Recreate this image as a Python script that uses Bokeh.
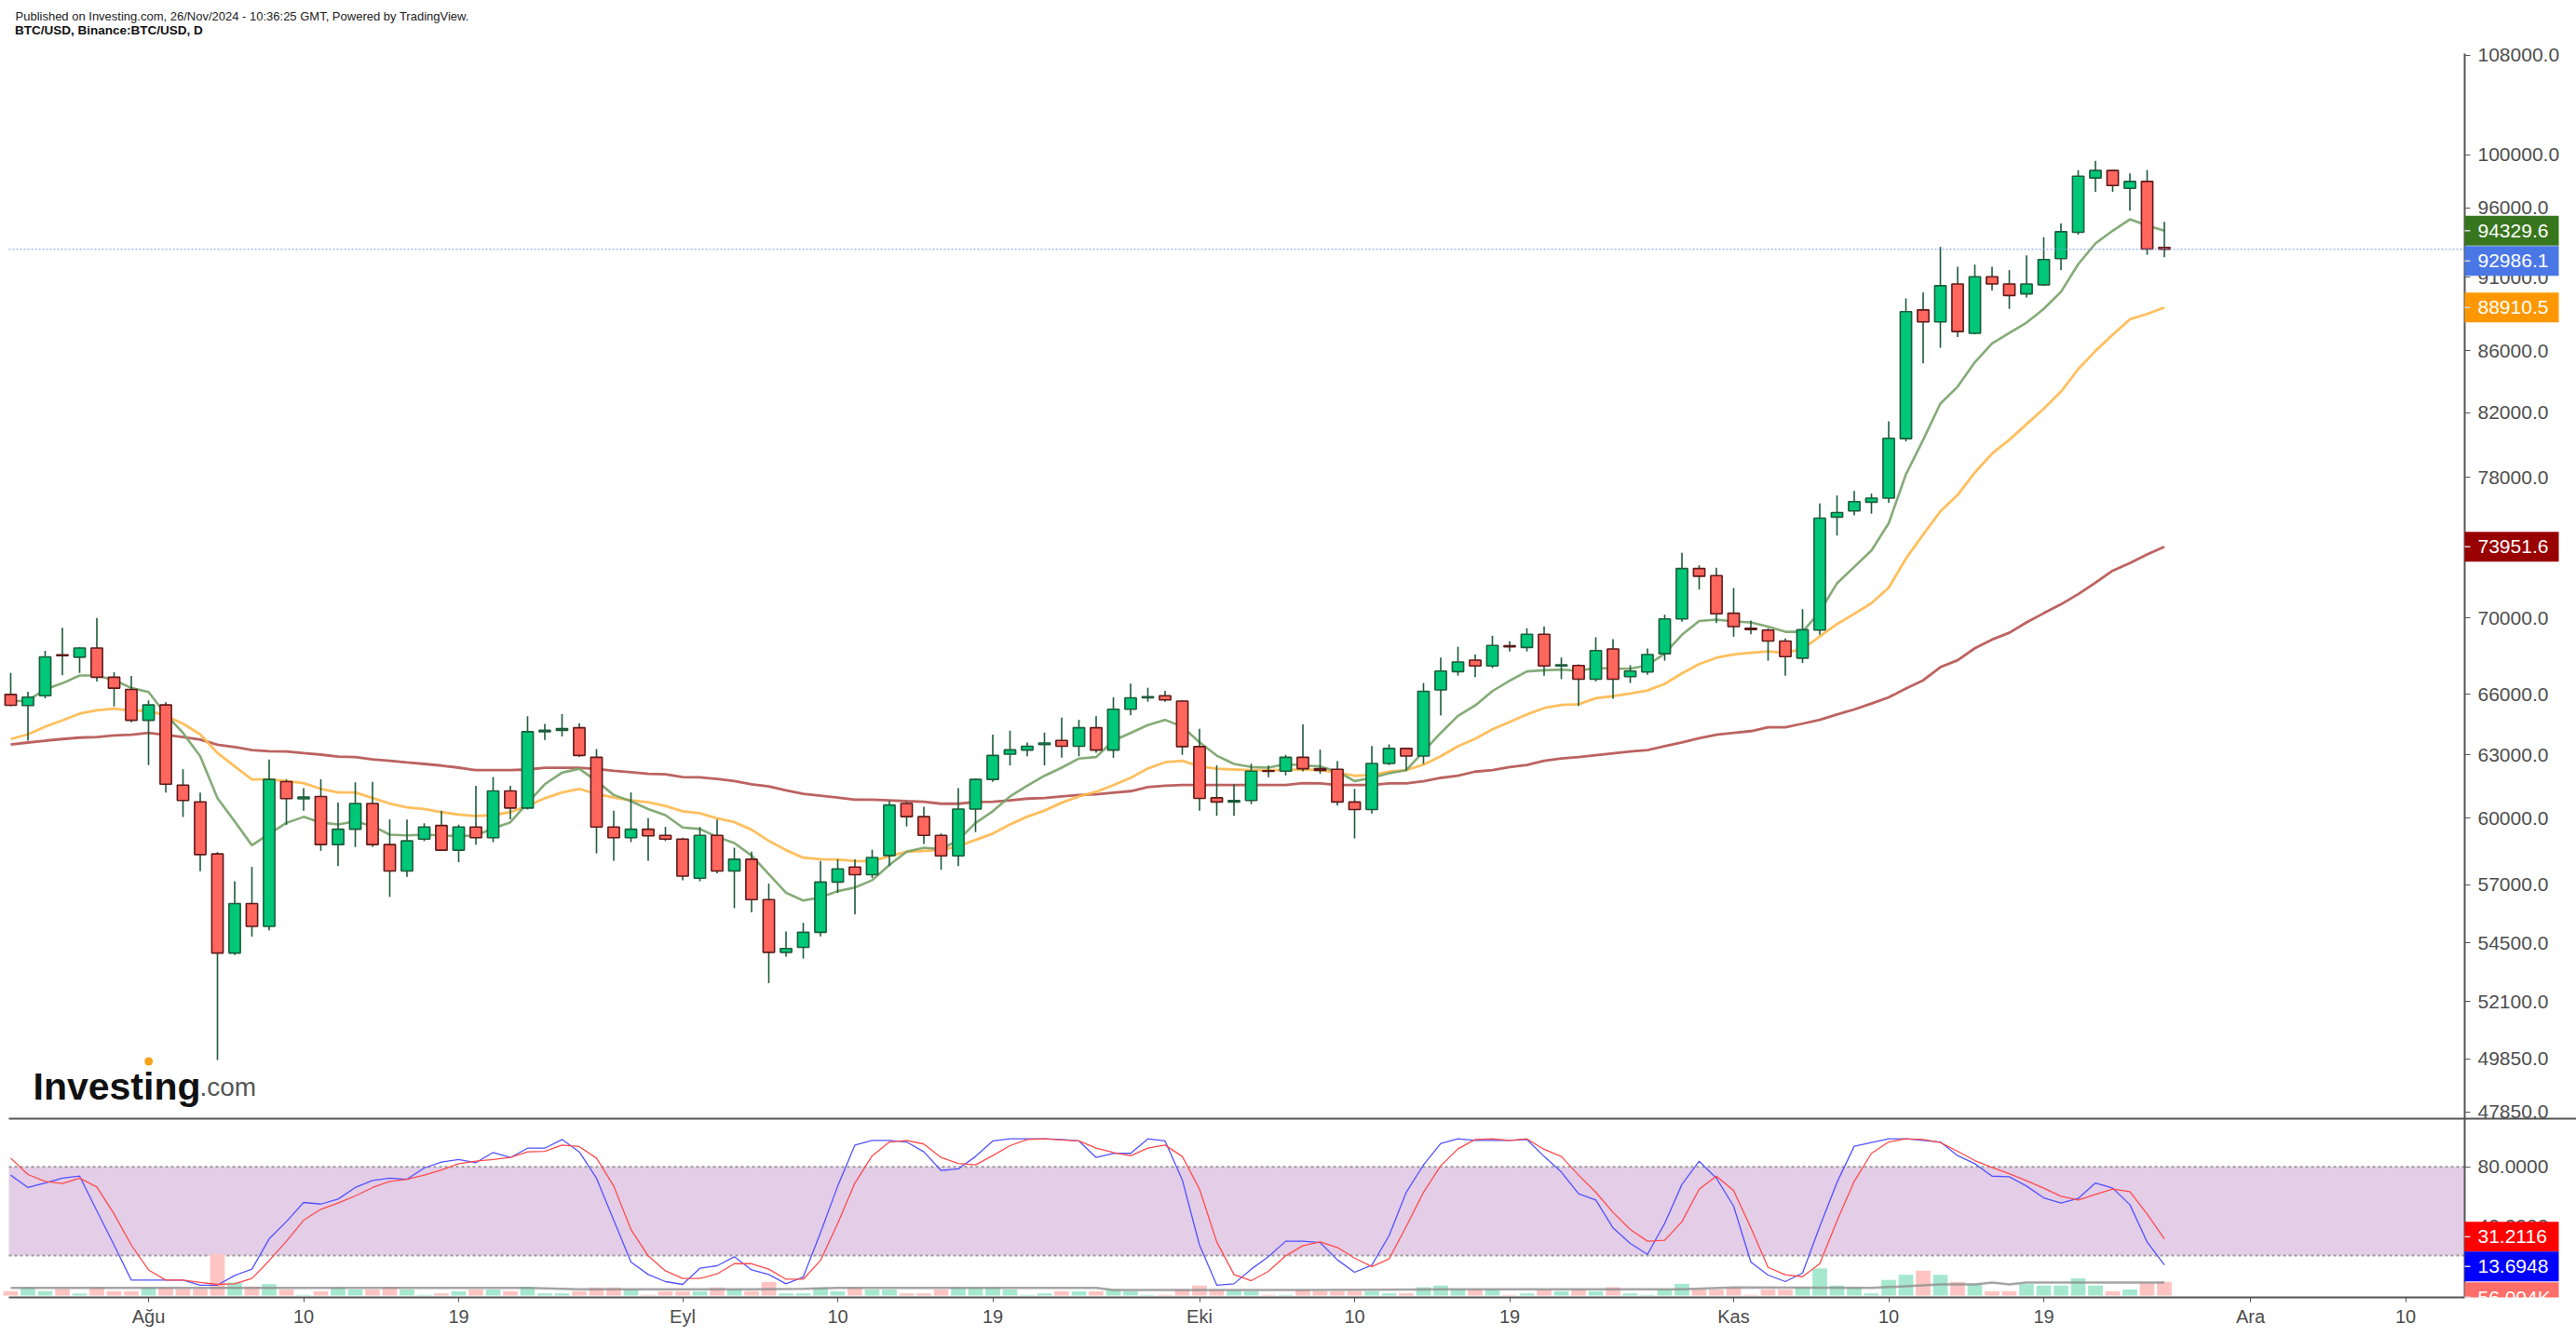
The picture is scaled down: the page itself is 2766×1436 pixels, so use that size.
import math
import pandas as pd
from bokeh.plotting import figure
from bokeh.models import (Range1d, LinearScale, FixedTicker, BoxAnnotation, Label, ColumnDataSource)
from bokeh.embed import file_html
from bokeh.resources import INLINE

# ---------------- data ----------------
first_day = "2024-07-24"
last_day = "2024-11-26"

opens = [66000, 65440, 65930, 68050, 67920, 68400, 66880, 66250,
         64700, 65470, 61550, 60760, 58370, 54080, 56180, 55200, 61710, 60900, 61010, 58790, 59490, 60680, 58790,
         57610, 59040, 59660, 58540, 59590, 59100, 61270, 60470, 64130, 64200, 64330, 62880, 59590, 59100, 59490, 59210,
         59040, 57290, 59210, 57610, 58130, 56350, 54110, 54320, 54950, 57120, 57780, 57440, 58300, 60680, 60070,
         59210, 58280, 60420, 61820, 63030, 63230, 63500, 63700, 63420, 64330, 63230, 65250, 65830, 65930, 65660,
         63400, 60950, 60750, 60820, 62230, 62210, 62880, 62330, 62300, 60750, 60400, 62580, 63310, 62940, 66230,
         67170, 67770, 67460, 68520, 68430, 69130, 67460, 67490, 66780, 68350, 66910, 67150, 68100, 69950, 72720, 72320,
         70260, 69450, 69350, 68770, 67870, 69350, 75660, 76020, 76530, 76770, 80370, 88750, 87930, 90540, 87160,
         91040, 90540, 89850, 90480, 92330, 94210, 98240, 98810, 97460, 97980, 93120]
highs = [67100, 66140, 68260, 69480, 68450, 70000, 67140, 66950,
         65700, 65600, 62300, 61200, 58450, 57150, 57790, 62770, 61820, 61400, 61820, 60720, 61680, 61700, 59940,
         59940, 59760, 60350, 59700, 61510, 61930, 61510, 64900, 64520, 65010, 64550, 63280, 60350, 61200, 60000, 59600,
         59100, 59590, 59940, 58650, 58470, 57050, 54980, 55350, 58050, 58130, 58130, 58560, 60800, 60750, 60530,
         59300, 61400, 61850, 63990, 64180, 63600, 64090, 64830, 64720, 64900, 65850, 66550, 66340, 66180, 65700,
         64280, 62490, 61590, 62570, 62480, 63000, 64500, 63250, 62690, 61370, 63430, 63510, 63350, 66580, 67900,
         68470, 68060, 69050, 68760, 69450, 69550, 67900, 67550, 68970, 68870, 67500, 68380, 70180, 73610, 72900, 72760,
         71640, 69870, 69450, 68900, 70480, 76450, 76930, 77200, 77040, 81450, 89540, 89950, 93160, 91750, 91900,
         91750, 91510, 92550, 93860, 94860, 98840, 99550, 98850, 98580, 98840, 94970]
lows = [65400, 63690, 65800, 66980, 67100, 66660, 65390, 64600,
        62500, 61200, 60050, 57600, 49800, 54000, 54770, 55030, 59690, 60350, 58510, 57820, 58680, 58680, 56470,
        57350, 58950, 58500, 58000, 58790, 58900, 59950, 60400, 63720, 63900, 62900, 58400, 58060, 58900, 58060, 58950,
        57200, 57150, 57500, 55980, 55810, 52840, 53930, 53850, 54780, 56640, 55720, 57300, 57820, 59620, 58820,
        57660, 57820, 59360, 61700, 62490, 62930, 62490, 62860, 62930, 63100, 62860, 64950, 65630, 65630, 63000,
        60350, 60110, 60110, 60650, 61920, 62010, 62200, 62090, 60580, 59070, 60210, 62500, 62250, 62560, 64940,
        66960, 66880, 67350, 68220, 68220, 66960, 66780, 65410, 66660, 65780, 66580, 67000, 67740, 69800, 71550, 69720,
        69000, 69130, 67740, 66960, 67620, 69100, 74590, 75760, 75860, 76500, 80200, 85170, 86200, 86910, 87100,
        90080, 88820, 89600, 90400, 91510, 94040, 97200, 97200, 95800, 92600, 92420]
closes = [65450, 65860, 67940, 68000, 68400, 66880, 66320, 64700,
          65470, 61590, 60820, 58340, 54080, 56180, 55200, 61820, 60910, 60980, 58790, 59490, 60680, 58790, 57610,
          58960, 59590, 58540, 59590, 59100, 61270, 60470, 64130, 64200, 64280, 62970, 59590, 59100, 59490, 59190, 59040,
          57380, 59210, 57610, 58130, 56350, 54110, 54270, 54950, 57120, 57700, 57440, 58210, 60610, 60070, 59210,
          58280, 60420, 61820, 62970, 63240, 63420, 63580, 63420, 64330, 63230, 65250, 65830, 65880, 65720, 63400,
          60920, 60750, 60820, 62210, 62200, 62880, 62330, 62250, 60750, 60400, 62580, 63310, 62940, 66160, 67200,
          67670, 67460, 68540, 68460, 69130, 67460, 67520, 66780, 68270, 66780, 67200, 68060, 69950, 72720, 72290, 70230,
          69540, 69380, 68770, 67950, 69370, 75600, 75920, 76570, 76770, 80390, 88630, 87930, 90420, 87280, 91040,
          90540, 89740, 90540, 92260, 94260, 98370, 98810, 97670, 97980, 93010, 92986.1]

ma_short = [65640, 65700, 66250, 66570, 66970, 66970, 66730, 66330,
            66120, 64990, 64070, 62930, 60930, 59850, 58760, 59280, 59780, 60060, 59800, 59710, 59850, 59640, 59240,
            59210, 59240, 59210, 59170, 59210, 59530, 59810, 60710, 61590, 62140, 62330, 61740, 61080, 60790, 60420, 60140,
            59570, 59500, 59140, 58860, 58300, 57470, 56650, 56310, 56450, 56720, 56880, 57200, 57880, 58470, 58650,
            58580, 59000, 59780, 60320, 61010, 61520, 61990, 62380, 62820, 62890, 63690, 64070, 64460, 64720, 64380,
            63610, 62960, 62560, 62410, 62380, 62560, 62480, 62440, 62190, 61740, 61890, 62110, 62260, 63160, 64070,
            64920, 65440, 66170, 66700, 67180, 67240, 67270, 67210, 67370, 67320, 67320, 67500, 68110, 69100, 69840, 69910,
            69810, 69760, 69540, 69260, 69260, 70340, 71900, 72810, 73740, 75300, 78190, 80300, 82570, 83650, 85240,
            86490, 87180, 87880, 88820, 90000, 91930, 93410, 94330, 95160, 94710, 94329.6]
ma_mid = [63770, 64000, 64380, 64690, 65030, 65200, 65280, 65180,
          65180, 64920, 64530, 64000, 63090, 62440, 61820, 61820, 61740, 61640, 61370, 61200, 61200, 60940, 60680,
          60500, 60430, 60280, 60170, 60100, 60140, 60280, 60570, 60930, 61200, 61370, 61130, 60960, 60830, 60740, 60570,
          60320, 60230, 59990, 59820, 59470, 58960, 58540, 58200, 58130, 58120, 58050, 58050, 58270, 58470, 58510,
          58540, 58720, 59000, 59290, 59710, 60070, 60350, 60720, 61010, 61230, 61550, 61890, 62340, 62640, 62710,
          62440, 62330, 62290, 62260, 62260, 62260, 62300, 62260, 62140, 61990, 62030, 62190, 62260, 62530, 62930,
          63420, 63780, 64250, 64610, 64990, 65310, 65470, 65500, 65810, 65910, 66050, 66200, 66540, 67080, 67560, 67890,
          68060, 68150, 68220, 68150, 68350, 69010, 69680, 70220, 70810, 71650, 73280, 74650, 75990, 76960, 78300,
          79450, 80300, 81270, 82240, 83340, 84790, 85990, 87070, 88110, 88470, 88910.5]
ma_long = [63500, 63600, 63690, 63770, 63840, 63870, 63950, 63980,
           64070, 63970, 63870, 63740, 63490, 63380, 63230, 63170, 63160, 63080, 63010, 62910, 62890, 62780, 62710,
           62630, 62560, 62480, 62380, 62260, 62260, 62260, 62290, 62370, 62370, 62370, 62320, 62230, 62160, 62080, 62060,
           61930, 61920, 61840, 61740, 61590, 61490, 61300, 61130, 61050, 60960, 60860, 60860, 60830, 60790, 60760,
           60670, 60670, 60750, 60760, 60830, 60910, 60940, 61010, 61080, 61110, 61190, 61260, 61450, 61520, 61550,
           61550, 61550, 61550, 61550, 61550, 61550, 61640, 61630, 61550, 61550, 61550, 61630, 61630, 61730, 61890,
           62000, 62190, 62260, 62410, 62510, 62710, 62820, 62890, 62980, 63070, 63160, 63230, 63420, 63610, 63810, 63980,
           64070, 64160, 64350, 64350, 64530, 64720, 64990, 65240, 65540, 65850, 66300, 66720, 67400, 67760, 68390,
           68850, 69210, 69760, 70260, 70740, 71300, 71930, 72600, 73030, 73510, 73951.6]

stoch_k = [74.4, 66.0, 69.1, 72.3, 73.7, 50.2, 27.1, 3.4, 3.4, 3.4, 3.4, 0.0, 0.0, 6.6, 10.8, 31.3, 42.9, 55.9,
           54.8, 58.2, 66.0, 70.8, 72.3, 71.6, 79.2, 83.2, 84.9, 82.8, 89.7, 86.3, 92.6, 92.6, 98.5, 90.1, 72.3, 43.9,
           15.6, 7.2, 2.4, 0.5, 11.4, 13.1, 19.2, 10.3, 7.2, 0.9, 5.5, 35.5, 67.0, 94.7, 97.9, 97.9, 96.8, 90.1, 77.5,
           78.6, 87.0, 97.5, 98.9, 98.9, 98.9, 98.5, 97.5, 86.3, 89.1, 89.1, 98.9, 97.5, 71.2, 27.1,
           0.0, 0.9, 10.8, 19.2, 29.7, 29.7, 28.8, 17.1, 8.7, 13.5, 33.4, 62.8, 81.3, 95.8, 98.9, 97.9, 97.9, 97.9,
           98.5, 87.0, 76.5, 61.8, 57.6, 38.7, 28.2, 20.8, 41.8, 68.1, 83.8, 72.3, 53.4, 15.6, 6.8, 2.4, 8.2, 39.7,
           69.5, 93.9, 96.4, 98.9, 98.9, 97.9, 96.8, 87.6, 82.1, 73.7, 73.3, 67.0, 59.0, 55.5, 58.6, 69.1, 65.6, 54.4,
           29.2, 13.6948]
stoch_d = [85.9, 74.8, 70.2, 68.7, 72.3, 66.4, 48.1, 27.1, 10.3, 3.4, 3.4, 1.9, 0.5, 0.9, 4.5, 16.6, 29.7, 43.9,
           51.3, 55.5, 60.3, 66.0, 70.2, 71.6, 74.4, 77.9, 82.1, 83.8, 84.9, 86.3, 90.1, 90.5, 94.7, 93.7, 85.9, 67.0,
           37.6, 19.8, 9.7, 4.5, 4.5, 7.6, 14.5, 14.5, 10.8, 4.0, 4.0, 16.6, 41.8, 69.1, 87.4, 96.8, 97.9, 95.4, 86.3,
           82.3, 81.3, 87.6, 94.3, 98.5, 98.9, 98.1, 97.5, 92.6, 89.7, 87.4, 92.6, 94.7, 87.0, 64.9,
           29.2, 7.2, 3.0, 9.3, 19.8, 26.7, 29.2, 25.5, 18.3, 12.5, 17.7, 39.7, 62.8, 80.7, 92.2, 98.5, 98.9, 97.9,
           98.9, 91.8, 87.0, 74.4, 62.8, 49.2, 37.6, 29.7, 30.3, 42.9, 64.9, 73.7, 63.9, 38.7, 12.0, 7.0, 5.7, 14.5,
           43.5, 70.2, 89.1, 96.8, 98.9, 98.5, 96.4, 90.5, 84.2, 79.6, 75.4, 70.6, 65.6, 60.1, 57.6, 61.4, 64.9, 63.2,
           48.1, 31.2116]

volume_k = [17.8, 33, 18, 28, 9, 33, 18, 18, 33, 33, 28, 28, 170, 53, 37, 47, 25, 3, 18, 33, 25, 25, 36, 25, 3,
            9, 18, 25, 25, 18, 36, 9, 9, 18, 33, 33, 25, 3, 18, 18, 18, 33, 25, 18, 56, 9, 9, 33, 18, 33, 25, 25, 9,
            9, 25, 33, 33, 33, 25, 3, 9, 18, 18, 18, 25, 18, 3, 3, 25, 41,
            25, 22, 18, 3, 3, 25, 18, 18, 18, 18, 9, 9, 34, 41, 25, 25, 25, 3, 9, 25, 18, 25, 18, 34, 9, 3, 25, 48,
            25, 25, 34, 3, 25, 25, 34, 111, 41, 34, 9, 64, 85, 102, 85, 56, 47, 18, 18, 47, 41, 41, 71, 41, 18, 25,
            51, 56.004]

vol_ma_dates = ["2024-07-24", "2024-08-23", "2024-08-26", "2024-09-05", "2024-09-08", "2024-09-10", "2024-09-25",
                "2024-09-26", "2024-10-07", "2024-10-15", "2024-10-29", "2024-11-01", "2024-11-09", "2024-11-11",
                "2024-11-13", "2024-11-15", "2024-11-16", "2024-11-17", "2024-11-18", "2024-11-26"]
vol_ma_k = [31.8, 31.8, 25.5, 25.5, 28, 31.8, 31.8, 23, 23, 25.5, 25.5, 33, 31.8, 38, 45.8, 45.8, 53, 45.8, 53.5, 53.5]

price_ticks = [108000, 100000, 96000, 91000, 86000, 82000, 78000, 74000, 70000, 66000, 63000, 60000, 57000,
               54500, 52100, 49850, 47850]
stoch_ticks = [80, 40]
date_ticks = ["2024-08-01", "2024-08-10", "2024-08-19", "2024-09-01", "2024-09-10", "2024-09-19", "2024-10-01",
              "2024-10-10", "2024-10-19", "2024-11-01", "2024-11-10", "2024-11-19", "2024-12-01", "2024-12-10"]
date_tick_labels = ["Ağu", "10", "19", "Eyl", "10", "19", "Eki", "10", "19", "Kas", "10", "19", "Ara", "10"]

last_price = 92986.1
band_low, band_high = 20, 80

# ---------------- layout geometry (pixels of the picture) ----------------
W, H = 2766, 1436
P_LEFT, P_RIGHT, P_TOP, P_BOT, P_SEP = 9, 2646, 57, 1393, 1201
MS_DAY = 86400000.0
PX_PER_DAY = 18.5
AUG1_PX = 159
AUG1_MS = pd.Timestamp("2024-08-01").value / 1e6


def px_to_ms(px):
    return AUG1_MS + (px - AUG1_PX) / PX_PER_DAY * MS_DAY


def py_to_price(py):   # log price scale of the upper pane
    return 100000.0 * math.exp(-(py - 165.9) / 1394.5)


def price_to_py(pr):
    return 165.9 + 1394.5 * math.log(100000.0 / pr)


def py_to_stoch(py):   # linear scale of the lower pane
    return (1379.8 - py) / 1.5885


def stoch_to_py(v):
    return 1379.8 - 1.5885 * v


def py_to_vol(py):
    return (1391.0 - py) * 3.81


def vol_to_py(v):
    return 1391.0 - v / 3.81


FONT = "Liberation Sans"
X_L, X_R, X_W = px_to_ms(P_LEFT), px_to_ms(P_RIGHT), px_to_ms(W)

dates = pd.date_range(first_day, last_day, freq="D")
up = [c >= o for o, c in zip(opens, closes)]
src = ColumnDataSource(dict(
    x=dates, o=opens, h=highs, l=lows, c=closes,
    top=[max(o, c) for o, c in zip(opens, closes)],
    bot=[min(o, c) for o, c in zip(opens, closes)],
    fill=["#00c878" if u else "#ff665e" for u in up],
    edge=["#1c5c3b" if u else "#5e1a18" for u in up],
    vfill=["#a5e8cf" if u else "#fdc4c2" for u in up],
    vol=volume_k, k=stoch_k, d=stoch_d,
    ma1=ma_short, ma2=ma_mid, ma3=ma_long,
))

# the frame covers the whole canvas; the axes are pinned at the pane edges
p = figure(width=W, height=H, output_backend="svg", toolbar_location=None, title=None,
           x_axis_type="datetime", y_axis_type="log", y_axis_location="right",
           x_range=Range1d(px_to_ms(0), px_to_ms(W)),
           y_range=Range1d(py_to_price(H), py_to_price(0)),
           min_border=0, min_border_left=0, min_border_right=0, min_border_top=0, min_border_bottom=0)
p.extra_y_ranges = {"stoch": Range1d(py_to_stoch(H), py_to_stoch(0)),
                    "vol": Range1d(py_to_vol(H), py_to_vol(0))}
p.extra_y_scales = {"stoch": LinearScale(), "vol": LinearScale()}
p.outline_line_color = None
p.xgrid.visible = False
p.ygrid.visible = False
p.background_fill_color = "white"
p.border_fill_color = "white"

# ---- lower pane: band, volume, stochastic RSI ----
p.add_layout(BoxAnnotation(left=X_L, right=X_R, bottom=band_low, top=band_high, y_range_name="stoch",
                           fill_color="#e3cde7", fill_alpha=1.0, line_color=None, level="underlay"))
p.segment(x0=[X_L, X_L], x1=[X_R, X_R], y0=[band_low, band_high], y1=[band_low, band_high],
          y_range_name="stoch", line_color="#9a9a9a", line_width=2, line_dash="3 3")

p.vbar(x="x", top="vol", bottom=0, width=0.85 * MS_DAY, source=src, y_range_name="vol",
       fill_color="vfill", line_color=None)
p.line(x=pd.to_datetime(vol_ma_dates), y=vol_ma_k, y_range_name="vol",
       line_color="#8f8f8f", line_width=2.5, line_alpha=0.8)

p.line(x="x", y="k", source=src, y_range_name="stoch", line_color="#5252ff", line_width=1.3)
p.line(x="x", y="d", source=src, y_range_name="stoch", line_color="#ff4a4a", line_width=1.3)

# separator between the panes (runs on under the price scale)
sep = py_to_stoch(P_SEP)
p.segment(x0=[X_L], x1=[X_W], y0=[sep], y1=[sep], y_range_name="stoch", line_color="#555555", line_width=2)

# ---- upper pane: moving averages and candles ----
p.line(x="x", y="ma3", source=src, line_color="#b5524f", line_width=2.8, line_alpha=0.9)
p.line(x="x", y="ma2", source=src, line_color="#ffb84d", line_width=2.8, line_alpha=0.9)
p.line(x="x", y="ma1", source=src, line_color="#78a268", line_width=2.6, line_alpha=0.9)

p.segment(x0="x", y0="h", x1="x", y1="l", source=src, line_color="#1d5a3b", line_width=1.6)
p.vbar(x="x", top="top", bottom="bot", width=0.66 * MS_DAY, source=src,
       fill_color="fill", line_color="edge", line_width=1.6)

p.segment(x0=[X_L], x1=[X_R], y0=[last_price], y1=[last_price], line_color="#7d98ee",
          line_width=1, line_dash="2 2")

# ---- axes ----
ax = p.yaxis[0]
ax.fixed_location = X_R
ax.bounds = (py_to_price(P_BOT), py_to_price(P_TOP))
tick_vals = list(price_ticks) + [int(round(py_to_price(stoch_to_py(v)))) for v in stoch_ticks]
overrides = {t: f"{t:.1f}" for t in price_ticks}
for v, t in zip(stoch_ticks, tick_vals[len(price_ticks):]):
    overrides[t] = f"{v:.4f}"
ax.ticker = FixedTicker(ticks=tick_vals)
ax.major_label_overrides = overrides
ax.axis_line_color = "#555555"
ax.axis_line_width = 2
ax.major_tick_line_color = "#555555"
ax.major_tick_out = 6
ax.major_tick_in = 0
ax.minor_tick_line_color = None
ax.major_label_standoff = 8
ax.major_label_text_font = FONT
ax.major_label_text_font_size = "21px"
ax.major_label_text_color = "#4d4d4d"

xa = p.xaxis[0]
xa.fixed_location = py_to_price(P_BOT)
xa.bounds = (X_L, X_R)
xt = [int(pd.Timestamp(d).value // 10**6) for d in date_ticks]
xa.ticker = FixedTicker(ticks=xt)
xa.major_label_overrides = {t: s for t, s in zip(xt, date_tick_labels)}
xa.axis_line_color = "#555555"
xa.axis_line_width = 2
xa.major_tick_line_color = "#555555"
xa.major_tick_out = 5
xa.major_tick_in = 0
xa.minor_tick_line_color = None
xa.major_label_standoff = 4
xa.major_label_text_font = FONT
xa.major_label_text_font_size = "20px"
xa.major_label_text_color = "#4d4d4d"

# ---- value tags on the price scale (box centres in canvas pixels) ----
TAG_TEXT_X = 2660
TAG_RIGHT = 2747
TAG_HALF = 16
TEXT_DY = 0
tags = [
    (price_to_py(ma_short[-1]), f"{ma_short[-1]:.1f}", "#38761d"),
    (price_to_py(last_price) + 12.5, f"{last_price:.1f}", "#4a77e6"),
    (price_to_py(ma_mid[-1]), f"{ma_mid[-1]:.1f}", "#ff9800"),
    (price_to_py(ma_long[-1]), f"{ma_long[-1]:.1f}", "#990000"),
    (stoch_to_py(stoch_d[-1]) - 2.4, f"{stoch_d[-1]:.4f}", "#ff0000"),
    (stoch_to_py(stoch_k[-1]) + 1.7, f"{stoch_k[-1]:.4f}", "#0000ff"),
    (vol_to_py(volume_k[-1]) + 16.4, f"{volume_k[-1]:.3f}K", "#ff6e69"),
]
p.quad(left=[X_R] * len(tags), right=[px_to_ms(TAG_RIGHT)] * len(tags),
       top=[py_to_price(cy - TAG_HALF) for cy, _, _ in tags],
       bottom=[py_to_price(min(cy + TAG_HALF, P_BOT)) for cy, _, _ in tags],
       fill_color=[c for _, _, c in tags], line_color=None, level="overlay")
p.segment(x0=[X_R] * len(tags), x1=[px_to_ms(P_RIGHT + 6)] * len(tags),
          y0=[py_to_price(cy) for cy, _, _ in tags], y1=[py_to_price(cy) for cy, _, _ in tags],
          line_color="#d8d8d8", line_width=1.5, level="overlay")
for cy, txt, _ in tags:
    p.add_layout(Label(x=TAG_TEXT_X, y=cy + TEXT_DY, x_units="canvas", y_units="canvas", text=txt,
                       text_color="white", text_font=FONT, text_font_size="21px",
                       text_baseline="middle", text_align="left", level="overlay"))
# the volume tag is cut by the bottom edge of the pane: a blank white strip hides what lies below it
p.add_layout(Label(x=P_RIGHT + 4, y=1409, x_units="canvas", y_units="canvas",
                   text="\u2003\u2003\u2003\u2003\u2003", text_font=FONT, text_font_size="21px",
                   text_baseline="middle", background_fill_color="white", background_fill_alpha=1.0,
                   padding=3, level="overlay"))

# ---- header ----
p.add_layout(Label(x=16, y=16.7, x_units="canvas", y_units="canvas",
                   text="Published on Investing.com, 26/Nov/2024 - 10:36:25 GMT, Powered by TradingView.",
                   text_font=FONT, text_font_size="13px", text_color="#222222", text_baseline="middle"))
p.add_layout(Label(x=15.5, y=32.3, x_units="canvas", y_units="canvas", text="BTC/USD, Binance:BTC/USD, D",
                   text_font=FONT, text_font_size="13.5px", text_font_style="bold", text_color="#111111",
                   text_baseline="middle"))

# ---- logo ----
p.add_layout(Label(x=35, y=1166.7, x_units="canvas", y_units="canvas", text="Investing", text_font=FONT,
                   text_font_size="41px", text_font_style="bold", text_color="#111111",
                   text_baseline="alphabetic"))
p.add_layout(Label(x=214, y=1166.7, x_units="canvas", y_units="canvas", text=".com", text_font=FONT,
                   text_font_size="28px", text_color="#555555", text_baseline="alphabetic"))
p.scatter(x=[px_to_ms(159.2)], y=[py_to_price(1139.5)], size=9, marker="circle",
          fill_color="#f7a21b", line_color=None, level="overlay")

open("out.html", "w").write(file_html(p, INLINE))
